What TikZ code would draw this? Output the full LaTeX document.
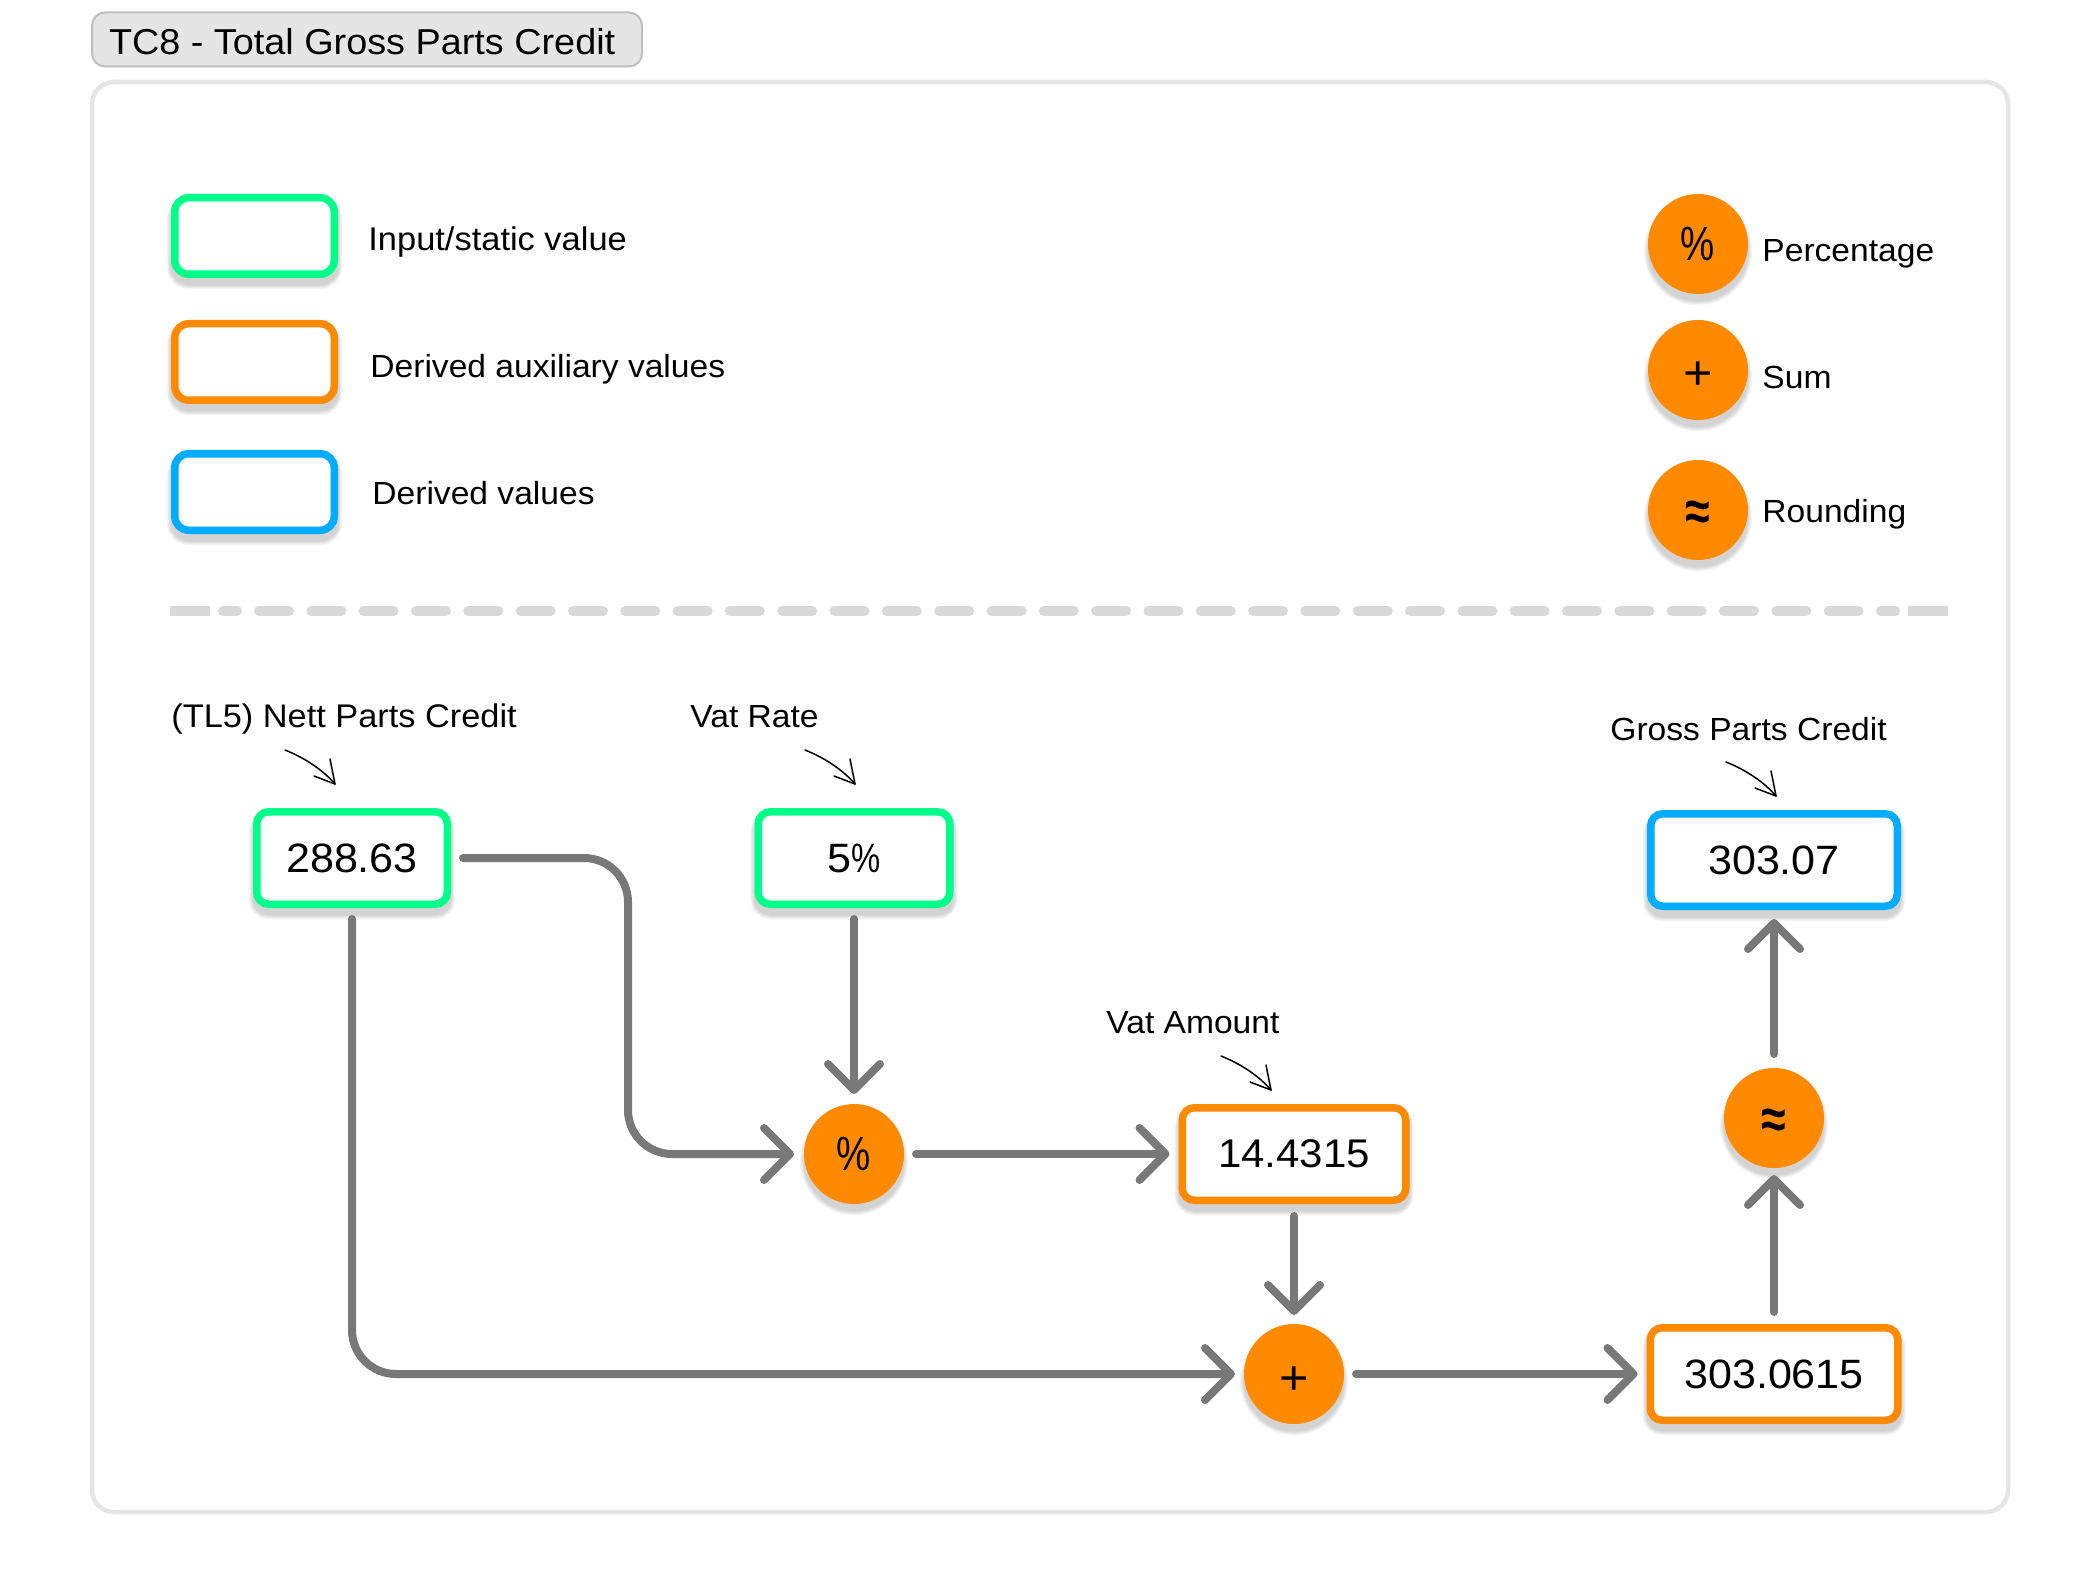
\documentclass[tikz,border=0pt]{standalone}
\usepackage{fontspec}
\setmainfont[FakeStretch=1.05]{Liberation Sans}
\newfontfamily\symf[FakeStretch=0.8]{Liberation Sans}
\usetikzlibrary{arrows.meta}
\definecolor{cgreen}{HTML}{00FF8A}
\definecolor{corange}{HTML}{FF8A00}
\definecolor{cblue}{HTML}{00ACFF}
\definecolor{cline}{HTML}{787878}
\newcommand{\pct}{{\symf\%}}
\newcommand{\plussym}{\raisebox{-10pt}[0pt][0pt]{+}}
\newcommand{\aprx}{\raisebox{-10.2pt}[0pt][0pt]{\fontsize{28}{30}\selectfont\symf\bfseries ≈}}
\tikzset{
  shdw/.style={
    preaction={draw=black,draw opacity=.03,line width=8pt,transform canvas={yshift=-3.5pt}},
    preaction={draw=black,draw opacity=.03,line width=7.2pt,transform canvas={yshift=-3.5pt}},
    preaction={draw=black,draw opacity=.03,line width=6.4pt,transform canvas={yshift=-3.5pt}},
    preaction={draw=black,draw opacity=.03,line width=5.6pt,transform canvas={yshift=-3.5pt}},
    preaction={draw=black,draw opacity=.03,line width=4.8pt,transform canvas={yshift=-3.5pt}},
    preaction={draw=black,draw opacity=.03,line width=4pt,transform canvas={yshift=-3.5pt}}},
  valbox/.style={shdw,draw=#1,fill=white,line width=3.75pt,rounded corners=6pt,minimum height=46.25pt,inner sep=0pt,font=\fontsize{20.5}{24}\selectfont},
  legbox/.style={shdw,draw=#1,fill=white,line width=3.75pt,rounded corners=7pt,minimum width=79.75pt,minimum height=38.25pt,inner sep=0pt},
  opcirc/.style={shdw,circle,draw=corange,fill=corange,line width=3.75pt,minimum size=46.25pt,inner sep=0pt,font=\fontsize{24}{28}\selectfont},
  leglabel/.style={anchor=base west,inner sep=0pt,font=\fontsize{16}{20}\selectfont},
  captext/.style={anchor=base west,inner sep=0pt,font=\fontsize{16}{20}\selectfont},
  conn/.style={draw=cline,line width=4pt,line cap=round,-{Straight Barb[length=13pt,width=26pt,round]}},
  handline/.style={draw=black,line width=.75pt,line cap=round,line join=round},
  handarrow/.pic={
    \draw[handline] (-50,-34) .. controls (-30,-26) and (-12,-14) .. (0,0);
    \draw[handline] (-5,-25) -- (0,0) -- (-21,-8);
  },
  ruleline/.style={draw=black!15,line width=5pt,line cap=round},
}
\begin{document}
\begin{tikzpicture}[x=.5pt,y=-.5pt]
\useasboundingbox (0,0) rectangle (2090,1594);
% frame and title
\node[draw=black!25,fill=black!10,line width=1pt,rounded corners=6.5pt,inner sep=0pt,minimum height=27pt,font=\fontsize{18}{22}\selectfont] (title) at (367,39.5) {\makebox[275pt][l]{\hspace{8.5pt}\raisebox{-7.75pt}[0pt][0pt]{TC8 - Total Gross Parts Credit}}};
\draw[draw=black!10,line width=2.25pt,rounded corners=11pt] (92,82) rectangle (2008,1512);
% legend
\node[legbox=cgreen] (leg1) at (254.5,236) {};
\node[legbox=corange] (leg2) at (254.5,362) {};
\node[legbox=cblue] (leg3) at (254.5,492) {};
\node[leglabel,font=\fontsize{16.4}{20}\selectfont] (legt1) at (368,251) {Input/static value};
\node[leglabel] (legt2) at (370,378) {Derived auxiliary values};
\node[leglabel] (legt3) at (372,504) {Derived values};
\node[opcirc] (ok1) at (1698,244) {\pct};
\node[opcirc] (ok2) at (1698,370) {\plussym};
\node[opcirc] (ok3) at (1698,510) {\aprx};
\node[leglabel] (okt1) at (1762,262) {Percentage};
\node[leglabel] (okt2) at (1762,388) {Sum};
\node[leglabel] (okt3) at (1762,522) {Rounding};
% divider
\fill[black!15] (170,606) rectangle (210,616);
\fill[black!15] (1908,606) rectangle (1948,616);
\draw[ruleline] (223,611) -- (237,611);
\draw[ruleline,dash pattern=on 15pt off 11.16pt] (259,611) -- (1860,611);
\draw[ruleline] (1881,611) -- (1895,611);
% value nodes
\node[valbox=cgreen,minimum width=95.25pt] (a) at (352,858) {288.63};
\node[valbox=cgreen,minimum width=95.75pt] (b) at (854,858) {5\pct};
\node[valbox=cblue,minimum width=123.25pt] (g) at (1774,860) {303.07};
\node[valbox=corange,minimum width=111.75pt,font=\fontsize{20}{24}\selectfont] (d) at (1294,1154) {14.4315};
\node[valbox=corange,minimum width=123.75pt] (f) at (1774,1374) {303.0615};
\node[opcirc] (c) at (854,1154) {\pct};
\node[opcirc] (e) at (1294,1374) {\plussym};
\node[opcirc] (r) at (1774,1118) {\aprx};
% captions
\node[captext,font=\fontsize{16.35}{20}\selectfont] (ta) at (171,727) {(TL5) Nett Parts Credit};
\node[captext] (tb) at (690,727) {Vat Rate};
\node[captext] (td) at (1106,1033.5) {Vat Amount};
\node[captext] (tg) at (1610,740) {Gross Parts Credit};
\pic at (335,784) {handarrow};
\pic at (855,784) {handarrow};
\pic at (1271,1090) {handarrow};
\pic at (1776,796) {handarrow};
% connectors
\coordinate (bend1) at (628,0);
\draw[conn,rounded corners=22pt,shorten <=6pt,shorten >=5pt] (a.east) -- (a.east -| bend1) -- (c.west -| bend1) -- (c.west);
\draw[conn,rounded corners=22pt,shorten <=5.5pt,shorten >=4.5pt] (a.south) -- (a.south |- e.west) -- (e.west);
\draw[conn,shorten <=5.5pt,shorten >=5pt] (b.south) -- (c.north);
\draw[conn,shorten <=6pt,shorten >=4.5pt] (c.east) -- (d.west);
\draw[conn,shorten <=6pt,shorten >=4.5pt] (d.south) -- (e.north);
\draw[conn,shorten <=6pt,shorten >=4.5pt] (e.east) -- (f.west);
\draw[conn,shorten <=6pt,shorten >=3.5pt] (f.north) -- (r.south);
\draw[conn,shorten <=7pt,shorten >=4.5pt] (r.north) -- (g.south);
\end{tikzpicture}
\end{document}
